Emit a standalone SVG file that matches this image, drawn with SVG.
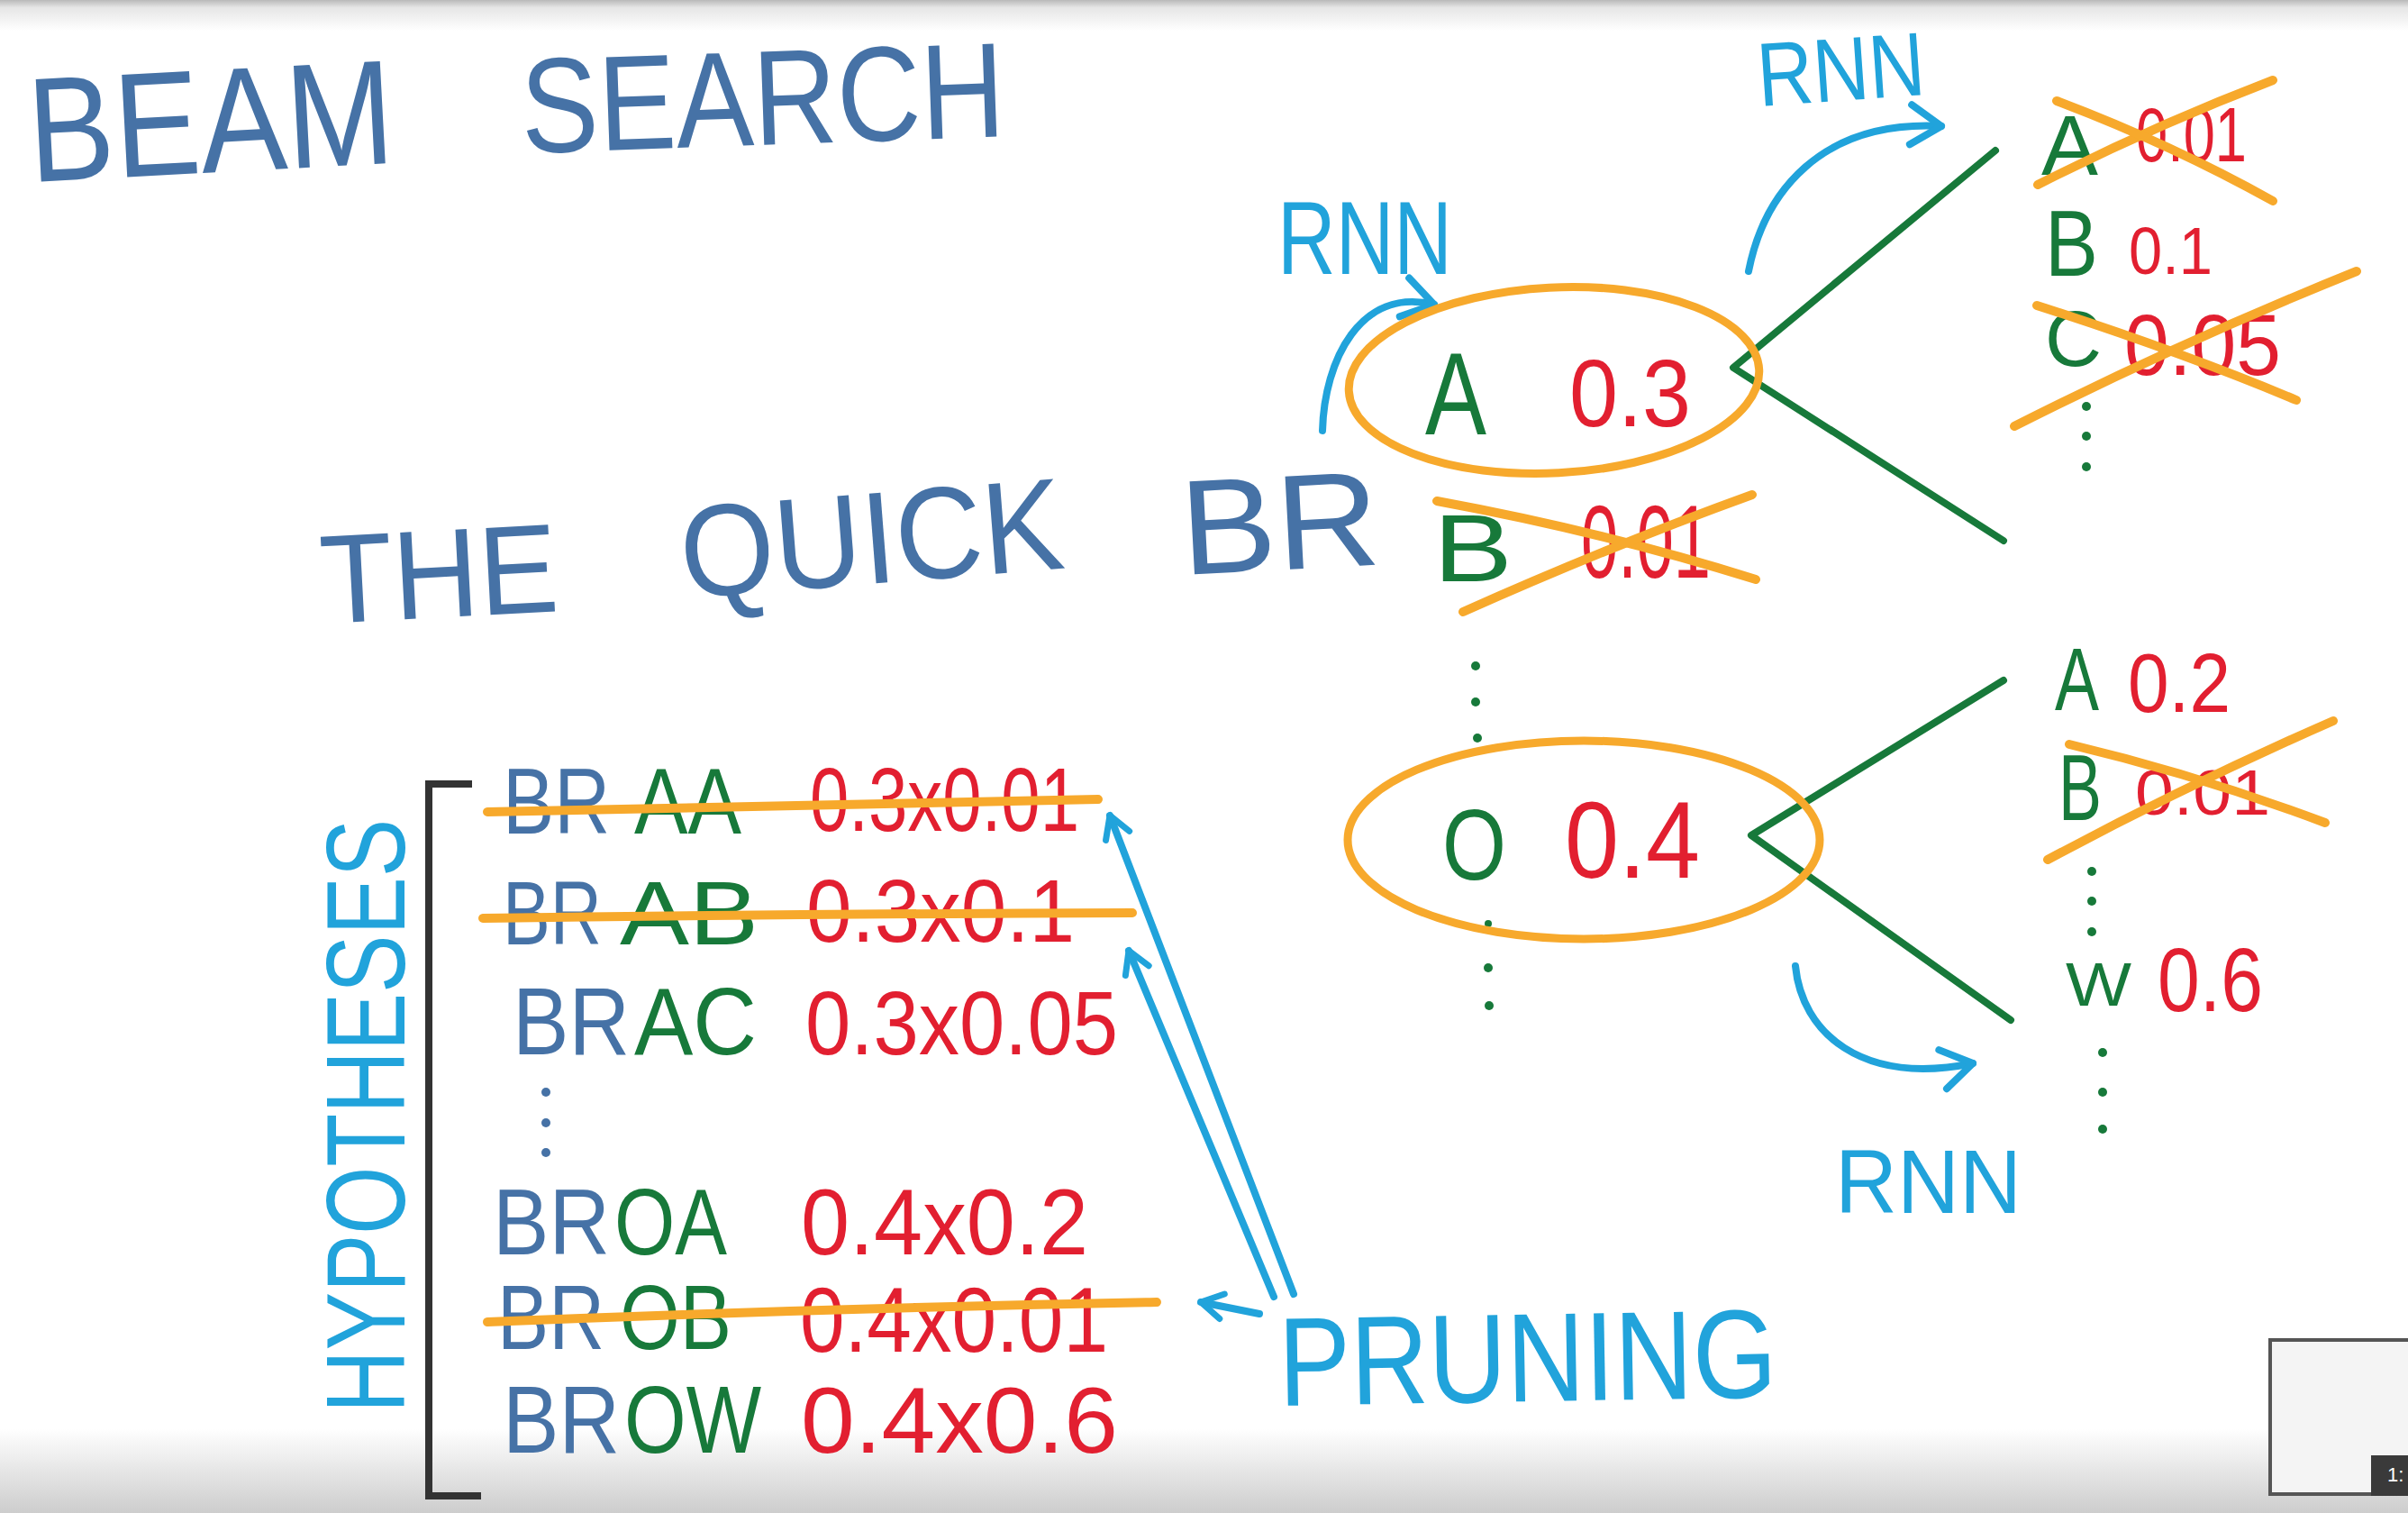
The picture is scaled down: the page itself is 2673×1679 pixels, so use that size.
<svg xmlns="http://www.w3.org/2000/svg" width="2673" height="1679" viewBox="0 0 2673 1679">
<defs>
<style>
text{font-family:"Liberation Sans",Arial,sans-serif;}
.blue{fill:#4672a6}
.green{fill:#17793a}
.red{fill:#e21f30}
.cyan{fill:#21a3db}
.strike{stroke:#f7a92c;stroke-width:10;stroke-linecap:round;fill:none}
.ring{stroke:#f7a92c;stroke-width:9;fill:none}
.branch{stroke:#17793a;stroke-width:8;stroke-linecap:round;stroke-linejoin:round;fill:none}
.arrow{stroke:#21a3db;stroke-width:8;stroke-linecap:round;stroke-linejoin:round;fill:none}
.gdot{fill:#17793a}
.bdot{fill:#4672a6}
.bracket{stroke:#333333;stroke-width:8;fill:none;stroke-linecap:square}
</style>
<marker id="head" viewBox="-40 -30 48 60" markerWidth="48" markerHeight="60" refX="0" refY="0" orient="auto" markerUnits="userSpaceOnUse">
<path d="M-34,-22 L0,0 L-34,22" fill="none" stroke="#21a3db" stroke-width="8" stroke-linecap="round" stroke-linejoin="round"/>
</marker>
<marker id="headS" viewBox="-30 -24 38 48" markerWidth="38" markerHeight="48" refX="0" refY="0" orient="auto" markerUnits="userSpaceOnUse">
<path d="M-24,-14 L0,0 L-24,14" fill="none" stroke="#21a3db" stroke-width="7" stroke-linecap="round" stroke-linejoin="round"/>
</marker>
<linearGradient id="topg" x1="0" y1="0" x2="0" y2="1">
<stop offset="0" stop-color="#b9b9b9"/>
<stop offset="0.25" stop-color="#e6e6e6"/>
<stop offset="1" stop-color="#ffffff"/>
</linearGradient>
<linearGradient id="botg" x1="0" y1="0" x2="0" y2="1">
<stop offset="0" stop-color="#ffffff"/>
<stop offset="1" stop-color="#cdcdcd"/>
</linearGradient>
</defs>

<rect x="0" y="0" width="2673" height="1679" fill="#ffffff"/>
<rect x="0" y="0" width="2673" height="34" fill="url(#topg)"/>
<rect x="0" y="1585" width="2673" height="94" fill="url(#botg)"/>

<g id="title">
<text class="blue" x="34" y="202" font-size="165" textLength="406" lengthAdjust="spacingAndGlyphs" transform="rotate(-3 34 202)">BEAM</text>
<text class="blue" x="580" y="170" font-size="150" textLength="537" lengthAdjust="spacingAndGlyphs" transform="rotate(-2 580 170)">SEARCH</text>
</g>

<g id="sentence">
<text class="blue" x="358" y="692" font-size="140" textLength="264" lengthAdjust="spacingAndGlyphs" transform="rotate(-3 358 692)">THE</text>
<text class="blue" x="759" y="664" font-size="145" textLength="426" lengthAdjust="spacingAndGlyphs" transform="rotate(-4.5 759 664)">QUICK</text>
<text class="blue" x="1313" y="638" font-size="150" textLength="221" lengthAdjust="spacingAndGlyphs" transform="rotate(-3 1313 638)">BR</text>
</g>

<g id="connectors">
<path class="branch" d="M2215,167 L1924,408 L2224,600"/>
<path class="branch" d="M2224,755 L1944,927 L2232,1132"/>
<path class="arrow" d="M1468,478 C1470,400 1510,318 1592,338" marker-end="url(#head)"/>
<path class="arrow" d="M1941,301 C1958,215 2020,133 2155,140" marker-end="url(#head)"/>
<path class="arrow" d="M1993,1072 C2000,1145 2065,1205 2190,1180" marker-end="url(#head)"/>
<path class="arrow" d="M1436,1436 L1232,905" marker-end="url(#headS)"/>
<path class="arrow" d="M1414,1439 L1253,1055" marker-end="url(#headS)"/>
<path class="arrow" d="M1398,1458 L1333,1445" marker-end="url(#headS)"/>
</g>

<g id="rnn-labels">
<text class="cyan" x="1418" y="304" font-size="115" textLength="194" lengthAdjust="spacingAndGlyphs">RNN</text>
<text class="cyan" x="1953" y="118" font-size="100" textLength="186" lengthAdjust="spacingAndGlyphs" transform="rotate(-4 1953 118)">RNN</text>
<text class="cyan" x="2037" y="1346" font-size="100" textLength="207" lengthAdjust="spacingAndGlyphs">RNN</text>
</g>

<g id="node-A">
<ellipse class="ring" cx="1725" cy="422" rx="228" ry="103" transform="rotate(-3 1725 422)"/>
<text class="green" x="1582" y="482" font-size="130" textLength="68" lengthAdjust="spacingAndGlyphs">A</text>
<text class="red" x="1742" y="473" font-size="105" textLength="135" lengthAdjust="spacingAndGlyphs">0.3</text>
</g>

<g id="node-B-root">
<text class="green" x="1591" y="645" font-size="105" textLength="88" lengthAdjust="spacingAndGlyphs">B</text>
<text class="red" x="1755" y="641" font-size="115" textLength="144" lengthAdjust="spacingAndGlyphs">0.01</text>
<path class="strike" d="M1595,556 Q1780,590 1949,643"/>
<path class="strike" d="M1624,679 Q1790,605 1945,549"/>
</g>

<g id="root-dots">
<circle class="gdot" cx="1638" cy="739" r="5"/>
<circle class="gdot" cx="1638" cy="779" r="5"/>
<circle class="gdot" cx="1640" cy="819" r="5"/>
<circle class="gdot" cx="1652" cy="1025" r="4"/>
<circle class="gdot" cx="1652" cy="1074" r="5"/>
<circle class="gdot" cx="1653" cy="1116" r="5"/>
</g>

<g id="node-O">
<ellipse class="ring" cx="1758" cy="932" rx="262" ry="110"/>
<text class="green" x="1601" y="976" font-size="112" textLength="71" lengthAdjust="spacingAndGlyphs">O</text>
<text class="red" x="1737" y="974" font-size="120" textLength="150" lengthAdjust="spacingAndGlyphs">0.4</text>
</g>

<g id="node-AA">
<text class="green" x="2266" y="194" font-size="95" textLength="63" lengthAdjust="spacingAndGlyphs">A</text>
<text class="red" x="2371" y="179" font-size="85" textLength="123" lengthAdjust="spacingAndGlyphs">0.01</text>
<path class="strike" d="M2262,205 Q2390,140 2523,89"/>
<path class="strike" d="M2283,112 Q2410,160 2523,223"/>
</g>

<g id="node-AB">
<text class="green" x="2270" y="306" font-size="103" textLength="59" lengthAdjust="spacingAndGlyphs">B</text>
<text class="red" x="2363" y="304" font-size="75" textLength="93" lengthAdjust="spacingAndGlyphs">0.1</text>
</g>

<g id="node-AC">
<text class="green" x="2270" y="406" font-size="87" textLength="63" lengthAdjust="spacingAndGlyphs">C</text>
<text class="red" x="2358" y="416" font-size="96" textLength="174" lengthAdjust="spacingAndGlyphs">0.05</text>
<path class="strike" d="M2236,473 Q2420,380 2616,301"/>
<path class="strike" d="M2261,339 Q2420,390 2549,444"/>
<circle class="gdot" cx="2316" cy="451" r="5"/>
<circle class="gdot" cx="2316" cy="484" r="5"/>
<circle class="gdot" cx="2316" cy="518" r="5"/>
</g>

<g id="node-OA">
<text class="green" x="2281" y="788" font-size="99" textLength="49" lengthAdjust="spacingAndGlyphs">A</text>
<text class="red" x="2362" y="790" font-size="92" textLength="114" lengthAdjust="spacingAndGlyphs">0.2</text>
</g>

<g id="node-OB">
<text class="green" x="2285" y="910" font-size="103" textLength="48" lengthAdjust="spacingAndGlyphs">B</text>
<text class="red" x="2370" y="904" font-size="70" textLength="150" lengthAdjust="spacingAndGlyphs">0.01</text>
<path class="strike" d="M2273,954 Q2430,870 2590,800"/>
<path class="strike" d="M2297,826 Q2440,860 2581,913"/>
<circle class="gdot" cx="2322" cy="967" r="5"/>
<circle class="gdot" cx="2322" cy="1000" r="5"/>
<circle class="gdot" cx="2322" cy="1034" r="5"/>
</g>

<g id="node-OW">
<text class="green" x="2293" y="1116" font-size="68" textLength="73" lengthAdjust="spacingAndGlyphs">W</text>
<text class="red" x="2395" y="1122" font-size="100" textLength="117" lengthAdjust="spacingAndGlyphs">0.6</text>
<circle class="gdot" cx="2334" cy="1168" r="5"/>
<circle class="gdot" cx="2334" cy="1212" r="5"/>
<circle class="gdot" cx="2334" cy="1253" r="5"/>
</g>

<g id="hypotheses">
<path class="bracket" d="M520,870 L476,870 L476,1660 L530,1660"/>
<text class="cyan" font-size="125" textLength="659" lengthAdjust="spacingAndGlyphs" transform="translate(449 1568) rotate(-90)">HYPOTHESES</text>

<text class="blue" x="558" y="925" font-size="103" textLength="119" lengthAdjust="spacingAndGlyphs">BR</text>
<text class="green" x="704" y="925" font-size="103" textLength="119" lengthAdjust="spacingAndGlyphs">AA</text>
<text class="red" x="899" y="922" font-size="100" textLength="299" lengthAdjust="spacingAndGlyphs">0.3x0.01</text>
<path class="strike" d="M541,901 Q880,893 1219,887"/>

<text class="blue" x="558" y="1048" font-size="100" textLength="110" lengthAdjust="spacingAndGlyphs">BR</text>
<text class="green" x="688" y="1048" font-size="100" textLength="154" lengthAdjust="spacingAndGlyphs">AB</text>
<text class="red" x="895" y="1045" font-size="98" textLength="298" lengthAdjust="spacingAndGlyphs">0.3x0.1</text>
<path class="strike" d="M536,1019 Q900,1014 1257,1013"/>

<text class="blue" x="569" y="1170" font-size="106" textLength="130" lengthAdjust="spacingAndGlyphs">BR</text>
<text class="green" x="704" y="1170" font-size="106" textLength="136" lengthAdjust="spacingAndGlyphs">AC</text>
<text class="red" x="894" y="1170" font-size="100" textLength="347" lengthAdjust="spacingAndGlyphs">0.3x0.05</text>

<circle class="bdot" cx="606" cy="1212" r="5"/>
<circle class="bdot" cx="606" cy="1246" r="5"/>
<circle class="bdot" cx="606" cy="1279" r="5"/>

<text class="blue" x="547" y="1392" font-size="104" textLength="130" lengthAdjust="spacingAndGlyphs">BR</text>
<text class="green" x="682" y="1392" font-size="104" textLength="125" lengthAdjust="spacingAndGlyphs">OA</text>
<text class="red" x="889" y="1392" font-size="104" textLength="319" lengthAdjust="spacingAndGlyphs">0.4x0.2</text>

<text class="blue" x="552" y="1497" font-size="102" textLength="119" lengthAdjust="spacingAndGlyphs">BR</text>
<text class="green" x="688" y="1497" font-size="102" textLength="124" lengthAdjust="spacingAndGlyphs">OB</text>
<text class="red" x="888" y="1500" font-size="102" textLength="342" lengthAdjust="spacingAndGlyphs">0.4x0.01</text>
<path class="strike" d="M541,1467 Q910,1452 1284,1445"/>

<text class="blue" x="558" y="1612" font-size="106" textLength="130" lengthAdjust="spacingAndGlyphs">BR</text>
<text class="green" x="693" y="1612" font-size="106" textLength="152" lengthAdjust="spacingAndGlyphs">OW</text>
<text class="red" x="889" y="1612" font-size="104" textLength="352" lengthAdjust="spacingAndGlyphs">0.4x0.6</text>
</g>

<g id="pruning">
<text class="cyan" x="1420" y="1560" font-size="140" textLength="553" lengthAdjust="spacingAndGlyphs" transform="rotate(-1 1420 1560)">PRUNING</text>
</g>

<g id="thumbnail">
<rect x="2520" y="1487" width="160" height="171" fill="#f4f4f4" stroke="#555555" stroke-width="4"/>
<rect x="2632" y="1615" width="45" height="45" fill="#3a3a3a"/>
<text x="2650" y="1644" font-size="22" fill="#ffffff">1:</text>
</g>
</svg>
